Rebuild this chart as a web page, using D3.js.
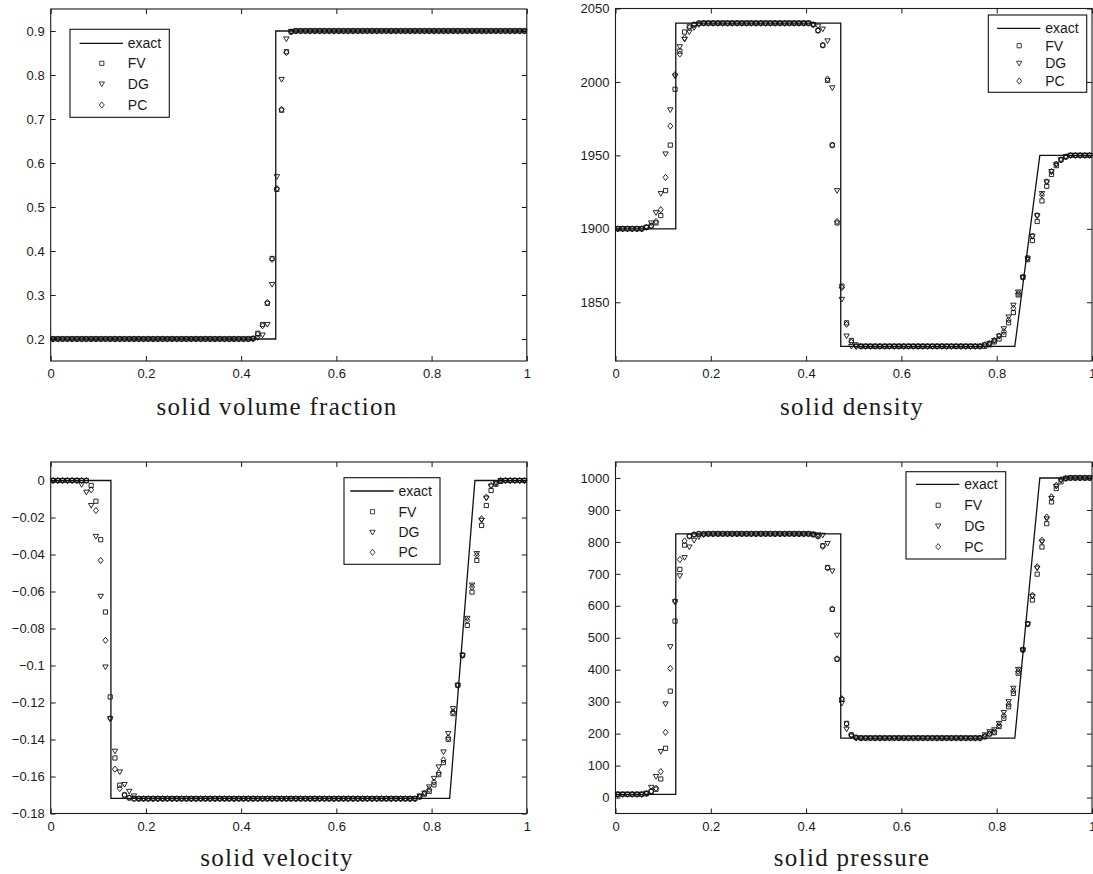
<!DOCTYPE html>
<html>
<head>
<meta charset="utf-8">
<script src="https://cdn.jsdelivr.net/npm/d3@7"></script>
<style>
  body { margin: 0; background: #fff; }
  svg { display: block; }
  .tick text { font-family: "Liberation Sans", Arial, sans-serif; font-size: 13px; fill: #1a1a1a; }
  .tick line, .domain { stroke: #1a1a1a; }
  .title { font-family: "Liberation Serif", "DejaVu Serif", serif; font-size: 25px; letter-spacing: 1.3px; fill: #1a1a1a; }
  .legend text { font-family: "Liberation Sans", Arial, sans-serif; font-size: 14px; fill: #1a1a1a; }
</style>
</head>
<body>
<svg id="chart" width="1093" height="874"></svg>
<script>
// cell centres (100 cells on [0,1])
const cells = [
  0.005,0.015,0.025,0.035,0.045,0.055,0.065,0.075,0.085,0.095,
  0.105,0.115,0.125,0.135,0.145,0.155,0.165,0.175,0.185,0.195,
  0.205,0.215,0.225,0.235,0.245,0.255,0.265,0.275,0.285,0.295,
  0.305,0.315,0.325,0.335,0.345,0.355,0.365,0.375,0.385,0.395,
  0.405,0.415,0.425,0.435,0.445,0.455,0.465,0.475,0.485,0.495,
  0.505,0.515,0.525,0.535,0.545,0.555,0.565,0.575,0.585,0.595,
  0.605,0.615,0.625,0.635,0.645,0.655,0.665,0.675,0.685,0.695,
  0.705,0.715,0.725,0.735,0.745,0.755,0.765,0.775,0.785,0.795,
  0.805,0.815,0.825,0.835,0.845,0.855,0.865,0.875,0.885,0.895,
  0.905,0.915,0.925,0.935,0.945,0.955,0.965,0.975,0.985,0.995
];

const xTicks = [0, 0.2, 0.4, 0.6, 0.8, 1];
const xTickLabels = ["0", "0.2", "0.4", "0.6", "0.8", "1"];

// ---- solid volume fraction ----
const vfTicks = [0.2, 0.3, 0.4, 0.5, 0.6, 0.7, 0.8, 0.9];
const vfTickLabels = ["0.2", "0.3", "0.4", "0.5", "0.6", "0.7", "0.8", "0.9"];
const vfExactX = [0, 0.4727, 0.4727, 1];
const vfExactY = [0.2, 0.2, 0.9, 0.9];
const vfFV = [
  0.2,0.2,0.2,0.2,0.2,0.2,0.2,0.2,0.2,0.2,
  0.2,0.2,0.2,0.2,0.2,0.2,0.2,0.2,0.2,0.2,
  0.2,0.2,0.2,0.2,0.2,0.2,0.2,0.2,0.2,0.2,
  0.2,0.2,0.2,0.2,0.2,0.2,0.2,0.2,0.2,0.2,
  0.2,0.2,0.201,0.213,0.233,0.281,0.383,0.54,0.72,0.853,
  0.898,0.9,0.9,0.9,0.9,0.9,0.9,0.9,0.9,0.9,
  0.9,0.9,0.9,0.9,0.9,0.9,0.9,0.9,0.9,0.9,
  0.9,0.9,0.9,0.9,0.9,0.9,0.9,0.9,0.9,0.9,
  0.9,0.9,0.9,0.9,0.9,0.9,0.9,0.9,0.9,0.9,
  0.9,0.9,0.9,0.9,0.9,0.9,0.9,0.9,0.9,0.9
];
const vfDG = [
  0.2,0.2,0.2,0.2,0.2,0.2,0.2,0.2,0.2,0.2,
  0.2,0.2,0.2,0.2,0.2,0.2,0.2,0.2,0.2,0.2,
  0.2,0.2,0.2,0.2,0.2,0.2,0.2,0.2,0.2,0.2,
  0.2,0.2,0.2,0.2,0.2,0.2,0.2,0.2,0.2,0.2,
  0.2,0.2,0.2,0.203,0.209,0.233,0.324,0.569,0.79,0.882,
  0.899,0.9,0.9,0.9,0.9,0.9,0.9,0.9,0.9,0.9,
  0.9,0.9,0.9,0.9,0.9,0.9,0.9,0.9,0.9,0.9,
  0.9,0.9,0.9,0.9,0.9,0.9,0.9,0.9,0.9,0.9,
  0.9,0.9,0.9,0.9,0.9,0.9,0.9,0.9,0.9,0.9,
  0.9,0.9,0.9,0.9,0.9,0.9,0.9,0.9,0.9,0.9
];
const vfPC = [
  0.2,0.2,0.2,0.2,0.2,0.2,0.2,0.2,0.2,0.2,
  0.2,0.2,0.2,0.2,0.2,0.2,0.2,0.2,0.2,0.2,
  0.2,0.2,0.2,0.2,0.2,0.2,0.2,0.2,0.2,0.2,
  0.2,0.2,0.2,0.2,0.2,0.2,0.2,0.2,0.2,0.2,
  0.2,0.2,0.201,0.211,0.23,0.283,0.381,0.542,0.722,0.851,
  0.898,0.9,0.9,0.9,0.9,0.9,0.9,0.9,0.9,0.9,
  0.9,0.9,0.9,0.9,0.9,0.9,0.9,0.9,0.9,0.9,
  0.9,0.9,0.9,0.9,0.9,0.9,0.9,0.9,0.9,0.9,
  0.9,0.9,0.9,0.9,0.9,0.9,0.9,0.9,0.9,0.9,
  0.9,0.9,0.9,0.9,0.9,0.9,0.9,0.9,0.9,0.9
];

// ---- solid density ----
const rhoTicks = [1850, 1900, 1950, 2000, 2050];
const rhoTickLabels = ["1850", "1900", "1950", "2000", "2050"];
const rhoExactX = [0, 0.1265, 0.1265, 0.4727, 0.4727, 0.838, 0.8905, 1];
const rhoExactY = [1900, 1900, 2040, 2040, 1820, 1820, 1950, 1950];
const rhoFV = [
  1900,1900,1900,1900,1900,1900,1901,1902,1904,1909,
  1926,1957,1995,2021,2034,2038,2039,2040,2040,2040,
  2040,2040,2040,2040,2040,2040,2040,2040,2040,2040,
  2040,2040,2040,2040,2040,2040,2040,2040,2040,2040,
  2040,2039,2035,2025,2001,1957,1904,1861,1836,1824,
  1821,1820,1820,1820,1820,1820,1820,1820,1820,1820,
  1820,1820,1820,1820,1820,1820,1820,1820,1820,1820,
  1820,1820,1820,1820,1820,1820,1820,1820,1821,1823,
  1825,1828,1836,1843,1855,1867,1879,1892,1905,1919,
  1929,1937,1943,1947,1949,1950,1950,1950,1950,1950
];
const rhoDG = [
  1900,1900,1900,1900,1900,1900,1901,1904,1911,1924,
  1951,1981,2004,2024,2029,2034,2037,2039,2040,2040,
  2040,2040,2040,2040,2040,2040,2040,2040,2040,2040,
  2040,2040,2040,2040,2040,2040,2040,2040,2040,2040,
  2040,2039,2038,2036,2028,1996,1926,1852,1827,1820,
  1820,1820,1820,1820,1820,1820,1820,1820,1820,1820,
  1820,1820,1820,1820,1820,1820,1820,1820,1820,1820,
  1820,1820,1820,1820,1820,1820,1820,1821,1822,1824,
  1827,1832,1840,1848,1857,1867,1880,1895,1909,1924,
  1932,1939,1944,1947,1949,1950,1950,1950,1950,1950
];
const rhoPC = [
  1900,1900,1900,1900,1900,1900,1901,1902,1905,1913,
  1935,1970,2005,2019,2030,2037,2039,2040,2040,2040,
  2040,2040,2040,2040,2040,2040,2040,2040,2040,2040,
  2040,2040,2040,2040,2040,2040,2040,2040,2040,2040,
  2040,2039,2035,2025,2002,1957,1905,1860,1835,1823,
  1820,1820,1820,1820,1820,1820,1820,1820,1820,1820,
  1820,1820,1820,1820,1820,1820,1820,1820,1820,1820,
  1820,1820,1820,1820,1820,1820,1820,1821,1822,1824,
  1827,1830,1838,1846,1856,1867,1880,1895,1909,1923,
  1932,1939,1944,1947,1949,1950,1950,1950,1950,1950
];

// ---- solid velocity ----
const uTicks = [-0.18, -0.16, -0.14, -0.12, -0.1, -0.08, -0.06, -0.04, -0.02, 0];
const uTickLabels = ["\u22120.18", "\u22120.16", "\u22120.14", "\u22120.12", "\u22120.1", "\u22120.08", "\u22120.06", "\u22120.04", "\u22120.02", "0"];
const uExactX = [0, 0.1265, 0.1265, 0.838, 0.891, 1];
const uExactY = [0, 0, -0.1718, -0.1718, 0, 0];
const uFV = [
  0,0,0,0,0,0,0,0,-0.0027,-0.0112,
  -0.032,-0.0711,-0.117,-0.15,-0.1647,-0.17,-0.1715,-0.172,-0.172,-0.172,
  -0.172,-0.172,-0.172,-0.172,-0.172,-0.172,-0.172,-0.172,-0.172,-0.172,
  -0.172,-0.172,-0.172,-0.172,-0.172,-0.172,-0.172,-0.172,-0.172,-0.172,
  -0.172,-0.172,-0.172,-0.172,-0.172,-0.172,-0.172,-0.172,-0.172,-0.172,
  -0.172,-0.172,-0.172,-0.172,-0.172,-0.172,-0.172,-0.172,-0.172,-0.172,
  -0.172,-0.172,-0.172,-0.172,-0.172,-0.172,-0.172,-0.172,-0.172,-0.172,
  -0.172,-0.172,-0.172,-0.172,-0.172,-0.172,-0.172,-0.171,-0.1695,-0.168,
  -0.1645,-0.159,-0.1525,-0.14,-0.126,-0.1107,-0.0945,-0.0783,-0.0603,-0.0432,
  -0.0243,-0.0135,-0.0054,-0.002,-0.0005,0,0,0,0,0
];
const uDG = [
  0,0,0,0,0,0,-0.0022,-0.0063,-0.0135,-0.0302,
  -0.0626,-0.1008,-0.1287,-0.1463,-0.1575,-0.1643,-0.168,-0.1705,-0.172,-0.172,
  -0.172,-0.172,-0.172,-0.172,-0.172,-0.172,-0.172,-0.172,-0.172,-0.172,
  -0.172,-0.172,-0.172,-0.172,-0.172,-0.172,-0.172,-0.172,-0.172,-0.172,
  -0.172,-0.172,-0.172,-0.172,-0.172,-0.172,-0.172,-0.172,-0.172,-0.172,
  -0.172,-0.172,-0.172,-0.172,-0.172,-0.172,-0.172,-0.172,-0.172,-0.172,
  -0.172,-0.172,-0.172,-0.172,-0.172,-0.172,-0.172,-0.172,-0.172,-0.172,
  -0.172,-0.172,-0.172,-0.172,-0.172,-0.172,-0.172,-0.1705,-0.169,-0.1656,
  -0.161,-0.1548,-0.1467,-0.1368,-0.1233,-0.1107,-0.0945,-0.0745,-0.0565,-0.0395,
  -0.0215,-0.0095,-0.003,-0.0012,0,0,0,0,0,0
];
const uPC = [
  0,0,0,0,0,0,0,0,-0.005,-0.0162,
  -0.0432,-0.0864,-0.1287,-0.156,-0.1665,-0.17,-0.1715,-0.172,-0.172,-0.172,
  -0.172,-0.172,-0.172,-0.172,-0.172,-0.172,-0.172,-0.172,-0.172,-0.172,
  -0.172,-0.172,-0.172,-0.172,-0.172,-0.172,-0.172,-0.172,-0.172,-0.172,
  -0.172,-0.172,-0.172,-0.172,-0.172,-0.172,-0.172,-0.172,-0.172,-0.172,
  -0.172,-0.172,-0.172,-0.172,-0.172,-0.172,-0.172,-0.172,-0.172,-0.172,
  -0.172,-0.172,-0.172,-0.172,-0.172,-0.172,-0.172,-0.172,-0.172,-0.172,
  -0.172,-0.172,-0.172,-0.172,-0.172,-0.172,-0.172,-0.171,-0.169,-0.167,
  -0.163,-0.158,-0.151,-0.139,-0.125,-0.1107,-0.0945,-0.0756,-0.0576,-0.0405,
  -0.0207,-0.009,-0.0027,-0.0015,0,0,0,0,0,0
];

// ---- solid pressure ----
const pTicks = [0, 100, 200, 300, 400, 500, 600, 700, 800, 900, 1000];
const pTickLabels = ["0", "100", "200", "300", "400", "500", "600", "700", "800", "900", "1000"];
const pExactX = [0, 0.1265, 0.1265, 0.4727, 0.4727, 0.838, 0.8905, 1];
const pExactY = [10, 10, 825, 825, 186, 186, 1000, 1000];
const pFV = [
  10,10,10,10,10,10,12,19,26,58,
  154,333,552,714,790,818,823,825,825,825,
  825,825,825,825,825,825,825,825,825,825,
  825,825,825,825,825,825,825,825,825,825,
  825,823,818,788,720,589,433,307,232,196,
  188,186,186,186,186,186,186,186,186,186,
  186,186,186,186,186,186,186,186,186,186,
  186,186,186,186,186,186,186,190,199,203,
  222,248,284,326,389,462,543,618,699,784,
  857,925,967,988,998,1000,1000,1000,1000,1000
];
const pDG = [
  10,10,10,10,10,10,14,32,66,144,
  293,472,613,694,751,784,805,816,822,825,
  825,825,825,825,825,825,825,825,825,825,
  825,825,825,825,825,825,825,825,825,825,
  825,824,822,821,795,709,508,295,214,192,
  186,186,186,186,186,186,186,186,186,186,
  186,186,186,186,186,186,186,186,186,186,
  186,186,186,186,186,186,186,196,206,212,
  232,266,300,342,401,462,543,630,718,800,
  872,936,974,993,999,1000,1000,1000,1000,1000
];
const pPC = [
  10,10,10,10,10,10,12,20,29,81,
  204,404,613,745,803,818,823,825,825,825,
  825,825,825,825,825,825,825,825,825,825,
  825,825,825,825,825,825,825,825,825,825,
  825,823,818,786,718,590,434,309,230,195,
  187,186,186,186,186,186,186,186,186,186,
  186,186,186,186,186,186,186,186,186,186,
  186,186,186,186,186,186,186,192,200,206,
  226,256,292,334,395,462,543,633,722,805,
  878,941,977,995,999,1000,1000,1000,1000,1000
];

const seriesNames = ["exact", "FV", "DG", "PC"];

const svg = d3.select("#chart");

// marker shapes (FV square, DG down-triangle, PC diamond)
const markerPath = {
  FV: "M-2.1,-2.1H2.1V2.1H-2.1Z",
  DG: "M-2.7,-2L2.7,-2L0,2.7Z",
  PC: "M0,-3.1L2.5,0L0,3.1L-2.5,0Z"
};

const panels = [
  { title: "solid volume fraction", box: [50.7, 9, 526.8, 361], titleX: 277, titleY: 415,
    yDomain: [0.15, 0.95], yTicks: vfTicks, yLabels: vfTickLabels,
    exactX: vfExactX, exactY: vfExactY, FV: vfFV, DG: vfDG, PC: vfPC,
    legend: { x: 70, y: 29.3, w: 99.3, h: 88, rows: [14, 34, 54.7, 75.7] } },
  { title: "solid density", box: [615.5, 8.5, 1092, 361], titleX: 852, titleY: 415,
    yDomain: [1810, 2050], yTicks: rhoTicks, yLabels: rhoTickLabels,
    exactX: rhoExactX, exactY: rhoExactY, FV: rhoFV, DG: rhoDG, PC: rhoPC,
    legend: { x: 988.3, y: 15, w: 98.4, h: 77.3, rows: [13.3, 30.7, 48.3, 66] } },
  { title: "solid velocity", box: [50.7, 462, 526.8, 813.5], titleX: 277, titleY: 866,
    yDomain: [-0.18, 0.01], yTicks: uTicks, yLabels: uTickLabels,
    exactX: uExactX, exactY: uExactY, FV: uFV, DG: uDG, PC: uPC,
    legend: { x: 344, y: 477.7, w: 96, h: 86.6, rows: [13.3, 34, 54.6, 74.6] } },
  { title: "solid pressure", box: [615.5, 462, 1092, 813.5], titleX: 852, titleY: 866,
    yDomain: [-50, 1050], yTicks: pTicks, yLabels: pTickLabels,
    exactX: pExactX, exactY: pExactY, FV: pFV, DG: pDG, PC: pPC,
    legend: { x: 906, y: 471.7, w: 99.7, h: 87.3, rows: [12.6, 33.6, 54.3, 75] } }
];

panels.forEach(p => {
  const [x0, y0, x1, y1] = p.box;
  const x = d3.scaleLinear().domain([0, 1]).range([x0, x1]);
  const y = d3.scaleLinear().domain(p.yDomain).range([y1, y0]);
  const g = svg.append("g");

  // axes with inward ticks on all four sides
  g.append("g")
    .attr("transform", `translate(0,${y1})`)
    .call(d3.axisBottom(x).tickValues(xTicks).tickFormat((d, i) => xTickLabels[i])
      .tickSizeInner(-5).tickSizeOuter(0).tickPadding(8));
  g.append("g")
    .attr("transform", `translate(${x0},0)`)
    .call(d3.axisLeft(y).tickValues(p.yTicks).tickFormat((d, i) => p.yLabels[i])
      .tickSizeInner(-5).tickSizeOuter(0).tickPadding(6));
  g.append("g")
    .attr("transform", `translate(0,${y0})`)
    .call(d3.axisTop(x).tickValues(xTicks).tickFormat("").tickSizeInner(-5).tickSizeOuter(0));
  g.append("g")
    .attr("transform", `translate(${x1},0)`)
    .call(d3.axisRight(y).tickValues(p.yTicks).tickFormat("").tickSizeInner(-5).tickSizeOuter(0));
  g.selectAll(".domain").remove();
  g.append("rect")
    .attr("x", x0).attr("y", y0)
    .attr("width", x1 - x0).attr("height", y1 - y0)
    .attr("fill", "none").attr("stroke", "#1a1a1a").attr("stroke-width", 1.1);

  // exact solution
  const exact = p.exactX.map((v, i) => [v, p.exactY[i]]);
  g.append("path")
    .datum(exact)
    .attr("fill", "none")
    .attr("stroke", "#111")
    .attr("stroke-width", 1.3)
    .attr("d", d3.line().x(d => x(d[0])).y(d => y(d[1])));

  // numerical solutions
  ["FV", "DG", "PC"].forEach(name => {
    g.append("g").selectAll("path")
      .data(p[name])
      .join("path")
      .attr("transform", (d, i) => `translate(${x(cells[i])},${y(d)})`)
      .attr("d", markerPath[name])
      .attr("fill", "none")
      .attr("stroke", "#111")
      .attr("stroke-width", 0.9);
  });

  // legend
  const L = p.legend;
  const lg = g.append("g").attr("class", "legend");
  lg.append("rect")
    .attr("x", L.x).attr("y", L.y).attr("width", L.w).attr("height", L.h)
    .attr("fill", "#fff").attr("stroke", "#111").attr("stroke-width", 1.1);
  const lx = L.x + L.w - 99;
  seriesNames.forEach((name, i) => {
    const ry = L.y + L.rows[i];
    if (name === "exact") {
      lg.append("line")
        .attr("x1", lx + 9.3).attr("x2", lx + 52.7)
        .attr("y1", ry).attr("y2", ry)
        .attr("stroke", "#111").attr("stroke-width", 1.3);
    } else {
      lg.append("path")
        .attr("transform", `translate(${lx + 31.5},${ry})`)
        .attr("d", markerPath[name])
        .attr("fill", "none").attr("stroke", "#111").attr("stroke-width", 0.8);
    }
    lg.append("text")
      .attr("x", lx + 57.5).attr("y", ry)
      .attr("dy", "0.35em")
      .text(name);
  });

  // caption below the axes
  svg.append("text")
    .attr("class", "title")
    .attr("x", p.titleX).attr("y", p.titleY)
    .attr("text-anchor", "middle")
    .text(p.title);
});
</script>
</body>
</html>
